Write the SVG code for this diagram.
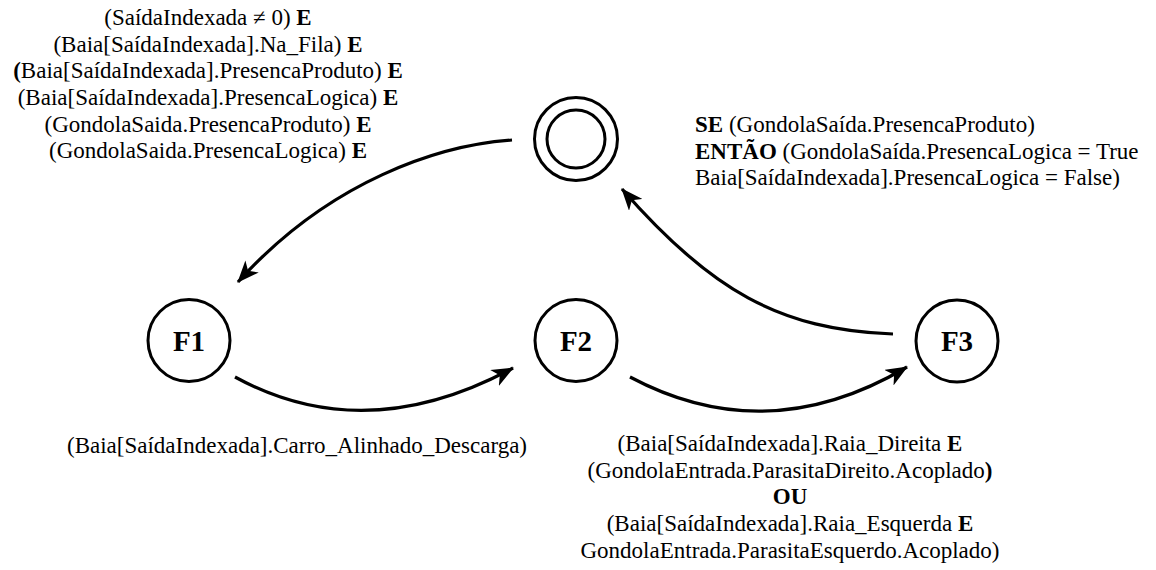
<svg xmlns="http://www.w3.org/2000/svg" width="1156" height="570" viewBox="0 0 1156 570">
  <style>
    .state { fill: none; stroke: #000; stroke-width: 3; }
    .edge { fill: none; stroke: #000; stroke-width: 3.2; marker-end: url(#arrow); }
    .lbl { font-family: "Liberation Serif", "Times New Roman", serif; font-size: 23px; fill: #000; }
    .name { font-family: "Liberation Serif", "Times New Roman", serif; font-size: 29px; font-weight: bold; fill: #000; text-anchor: middle; }
    .mid { text-anchor: middle; }
    .b { font-weight: bold; }
  </style>
  <defs>
    <marker id="arrow" viewBox="0 0 22 18" refX="21" refY="9" markerWidth="22" markerHeight="18" markerUnits="userSpaceOnUse" orient="auto">
      <path d="M0,0 L22,9 L0,18 L6,9 z" fill="#000"/>
    </marker>
  </defs>

  <!-- transitions -->
  <g id="connectors">
    <path class="edge" d="M512,140 C440,145 330,180 238,282"/>
    <path class="edge" d="M235,377 Q365,448 513,368"/>
    <path class="edge" d="M630,377 Q767,450 907,367"/>
    <path class="edge" d="M893,334 C780,330 710,290 622,189"/>
  </g>

  <!-- initial / final state -->
  <g id="start">
    <circle class="state" cx="576" cy="139" r="41.5"/>
    <circle class="state" cx="576" cy="139" r="29"/>
  </g>

  <g id="F1">
    <circle class="state" cx="189" cy="340.5" r="41"/>
    <text class="name" x="189" y="351">F1</text>
  </g>
  <g id="F2">
    <circle class="state" cx="576" cy="340.5" r="41"/>
    <text class="name" x="576" y="351">F2</text>
  </g>
  <g id="F3">
    <circle class="state" cx="957" cy="341" r="41"/>
    <text class="name" x="957" y="351">F3</text>
  </g>

  <!-- guard: start -> F1 -->
  <g id="label-start-f1" class="lbl mid">
    <text x="208" y="25">(SaídaIndexada ≠ 0) <tspan class="b">E</tspan></text>
    <text x="208" y="51.7">(Baia[SaídaIndexada].Na_Fila) <tspan class="b">E</tspan></text>
    <text x="208" y="78.3"><tspan class="b">(</tspan>Baia[SaídaIndexada].PresencaProduto) <tspan class="b">E</tspan></text>
    <text x="208" y="105">(Baia[SaídaIndexada].PresencaLogica) <tspan class="b">E</tspan></text>
    <text x="208" y="131.7">(GondolaSaida.PresencaProduto) <tspan class="b">E</tspan></text>
    <text x="208" y="158.3">(GondolaSaida.PresencaLogica) <tspan class="b">E</tspan></text>
  </g>

  <!-- action: F3 -> start -->
  <g id="label-f3-start" class="lbl">
    <text x="695" y="132"><tspan class="b">SE</tspan> (GondolaSaída.PresencaProduto)</text>
    <text x="695" y="158.5"><tspan class="b">ENTÃO</tspan> (GondolaSaída.PresencaLogica = True</text>
    <text x="695" y="185">Baia[SaídaIndexada].PresencaLogica = False)</text>
  </g>

  <!-- guard: F1 -> F2 -->
  <g id="label-f1-f2" class="lbl mid">
    <text x="297" y="453">(Baia[SaídaIndexada].Carro_Alinhado_Descarga)</text>
  </g>

  <!-- guard: F2 -> F3 -->
  <g id="label-f2-f3" class="lbl mid">
    <text x="790" y="451">(Baia[SaídaIndexada].Raia_Direita <tspan class="b">E</tspan></text>
    <text x="790" y="477.7">(GondolaEntrada.ParasitaDireito.Acoplado<tspan class="b">)</tspan></text>
    <text x="790" y="504.3" class="b">OU</text>
    <text x="790" y="531">(Baia[SaídaIndexada].Raia_Esquerda <tspan class="b">E</tspan></text>
    <text x="790" y="557.7">GondolaEntrada.ParasitaEsquerdo.Acoplado)</text>
  </g>
</svg>
